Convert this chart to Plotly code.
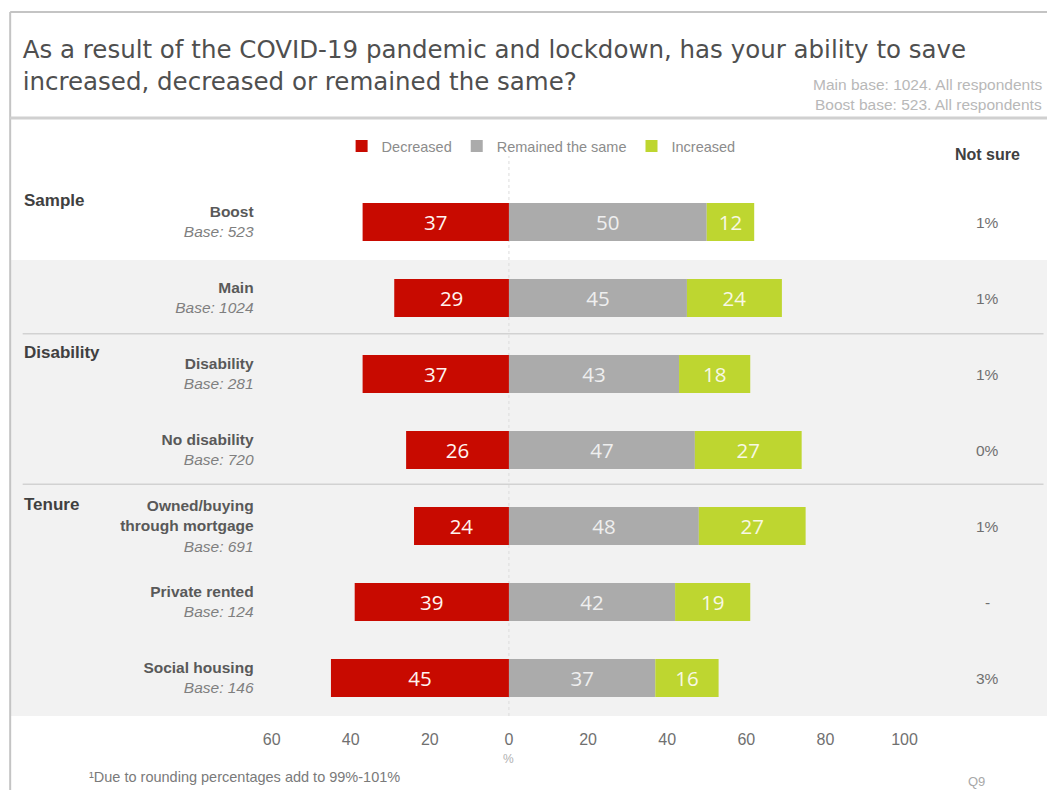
import plotly.graph_objects as go

# ---------------- data ----------------
categories = ["Boost", "Main", "Disability", "No disability",
              "Owned/buying<br>through mortgage", "Private rented", "Social housing"]
bases = [523, 1024, 281, 720, 691, 124, 146]
groups = ["Sample", "Disability", "Tenure"]
group_first_row = [0, 2, 4]
decreased = [37, 29, 37, 26, 24, 39, 45]
remained = [50, 45, 43, 47, 48, 42, 37]
increased = [12, 24, 18, 27, 27, 19, 16]
not_sure = ["1%", "1%", "1%", "0%", "1%", "-", "3%"]
x_tick_vals = [-60, -40, -20, 0, 20, 40, 60, 80, 100]
x_tick_labels = ["60", "40", "20", "0", "20", "40", "60", "80", "100"]
series_names = ["Decreased", "Remained the same", "Increased"]

TITLE = "As a result of the COVID-19 pandemic and lockdown, has your ability to save<br>increased, decreased or remained the same?"
BASE_NOTES = ["Main base: 1024. All respondents", "Boost base: 523. All respondents"]
FOOTNOTE = "¹Due to rounding percentages add to 99%-101%"

# ---------------- styling ----------------
OX, OY = 8, 8                      # page body margin
W, H = 1055 - 2 * OX, 798 - 2 * OY
HA, HB = 0.979, 8.5                # observed horizontal page->screen mapping
RED, GREY, GREEN = "#C80A00", "#ABABAB", "#BED630"
SANS = "Liberation Sans, Arial, sans-serif"


def px(x):
    """screen pixel (x) -> paper fraction"""
    return ((x - HB) / HA - OX) / W


def py(y):
    """screen pixel (y) -> paper fraction"""
    return 1 - (y - OY) / H


rows = list(range(len(categories)))
ticktext = [
    f"<b>{c}</b><br><i><span style='color:#7f7f7f'>Base: {b}</span></i>"
    for c, b in zip(categories, bases)
]

fig = go.Figure()
series = [
    ([-v for v in decreased], decreased, RED, "#fff4f0"),
    (remained, remained, GREY, "#efefef"),
    (increased, increased, GREEN, "#f8f8e4"),
]
for name, (xs, vals, col, tcol) in zip(series_names, series):
    fig.add_trace(go.Bar(
        y=rows, x=xs, orientation="h", name=name, width=0.5,
        marker=dict(color=col, line=dict(width=0)),
        text=[str(v) for v in vals], textposition="inside",
        insidetextanchor="middle", textangle=0, constraintext="none",
        textfont=dict(color=tcol, size=20.5, family="Open Sans"),
        hoverinfo="skip",
    ))

# row geometry (screen pixels): row 0 centre at 222px, 76px per row
ROW0, ROWH = 222, 76
top_px, bot_px = 160, 718
r_top = (top_px - ROW0) / ROWH
r_bot = (bot_px - ROW0) / ROWH
x_left_px, x_right_px = 271, 904   # screen pixels of -60 and 100

fig.update_layout(
    width=W, height=H,
    margin=dict(l=0, r=0, t=0, b=0),
    paper_bgcolor="white", plot_bgcolor="rgba(0,0,0,0)",
    barmode="relative",
    font=dict(family=SANS, color="#595959"),
    title=dict(text=TITLE, x=px(22), xanchor="left", xref="paper",
               y=py(58), yanchor="middle", yref="paper",
               font=dict(family="DejaVu Sans", size=24.5, color="#4f4f4f")),
    legend=dict(orientation="h", x=px(341), xanchor="left", y=py(146), yanchor="middle",
                font=dict(size=14.5, color="#8c8c8c", family=SANS),
                bgcolor="rgba(0,0,0,0)", traceorder="normal", itemwidth=30),
    xaxis=dict(domain=[px(x_left_px), px(x_right_px)], range=[-60, 100],
               tickvals=x_tick_vals, ticktext=x_tick_labels,
               showgrid=False, zeroline=False, showline=False, ticks="",
               tickfont=dict(size=16, color="#707070", family=SANS),
               ticklabelstandoff=10, fixedrange=True),
    yaxis=dict(domain=[py(bot_px), py(top_px)], range=[r_bot, r_top],
               tickvals=rows, ticktext=ticktext,
               showgrid=False, zeroline=False, showline=False, ticks="",
               tickfont=dict(size=15.5, color="#595959", family=SANS),
               ticklabelstandoff=17, fixedrange=True),
)

shapes = []
shapes.append(dict(type="rect", xref="paper", yref="y", x0=px(10), x1=1.02, y0=0.5, y1=6.5,
                   fillcolor="#f2f2f2", line=dict(width=0), layer="below"))
for r in (1.47, 3.45):
    shapes.append(dict(type="line", xref="paper", yref="y", x0=px(22), x1=px(1043), y0=r, y1=r,
                       line=dict(color="#d2d2d2", width=1.5), layer="below"))
shapes.append(dict(type="line", xref="x", yref="paper", x0=0, x1=0, y0=py(716), y1=py(156),
                   line=dict(color="#dcdcdc", width=1, dash="dot"), layer="below"))
fx = px(9.5)
shapes.append(dict(type="line", xref="paper", yref="paper", x0=fx, x1=1.02, y0=py(12), y1=py(12),
                   line=dict(color="#c4c4c4", width=2)))
shapes.append(dict(type="line", xref="paper", yref="paper", x0=fx, x1=fx, y0=py(12), y1=-0.02,
                   line=dict(color="#c4c4c4", width=2)))
shapes.append(dict(type="line", xref="paper", yref="paper", x0=fx, x1=1.02, y0=py(118), y1=py(118),
                   line=dict(color="#d0d0d0", width=3)))
fig.update_layout(shapes=shapes)

ann = []
for i, t in enumerate(BASE_NOTES):
    ann.append(dict(text=t, xref="paper", yref="paper", x=px(1044), y=py(84 + 20 * i),
                    xanchor="right", yanchor="middle", showarrow=False,
                    font=dict(size=15.5, color="#b8b8b8", family=SANS)))
ann.append(dict(text="<b>Not sure</b>", xref="paper", yref="paper", x=px(987), y=py(154),
                xanchor="center", yanchor="middle", showarrow=False,
                font=dict(size=16, color="#404040", family=SANS)))
for r, v in zip(rows, not_sure):
    ann.append(dict(text=v, xref="paper", yref="y", x=px(987), y=r,
                    xanchor="center", yanchor="middle", showarrow=False,
                    font=dict(size=15.5, color="#707070", family=SANS)))
for g, r in zip(groups, group_first_row):
    ann.append(dict(text=f"<b>{g}</b>", xref="paper", yref="y", x=px(21), y=r - 0.28,
                    xanchor="left", yanchor="middle", showarrow=False,
                    font=dict(size=17, color="#404040", family=SANS)))
ann.append(dict(text="%", xref="x", yref="paper", x=0, y=py(759), xanchor="center",
                yanchor="middle", showarrow=False,
                font=dict(size=12, color="#b0b0b0", family=SANS)))
ann.append(dict(text=FOOTNOTE, xref="paper", yref="paper", x=px(86), y=py(777),
                xanchor="left", yanchor="middle", showarrow=False,
                font=dict(size=14.5, color="#7a7a7a", family=SANS)))
ann.append(dict(text="Q9", xref="paper", yref="paper", x=px(976), y=py(781),
                xanchor="center", yanchor="middle", showarrow=False,
                font=dict(size=13, color="#a8a8a8", family=SANS)))
fig.update_layout(annotations=ann)

fig.write_html("out.html")
